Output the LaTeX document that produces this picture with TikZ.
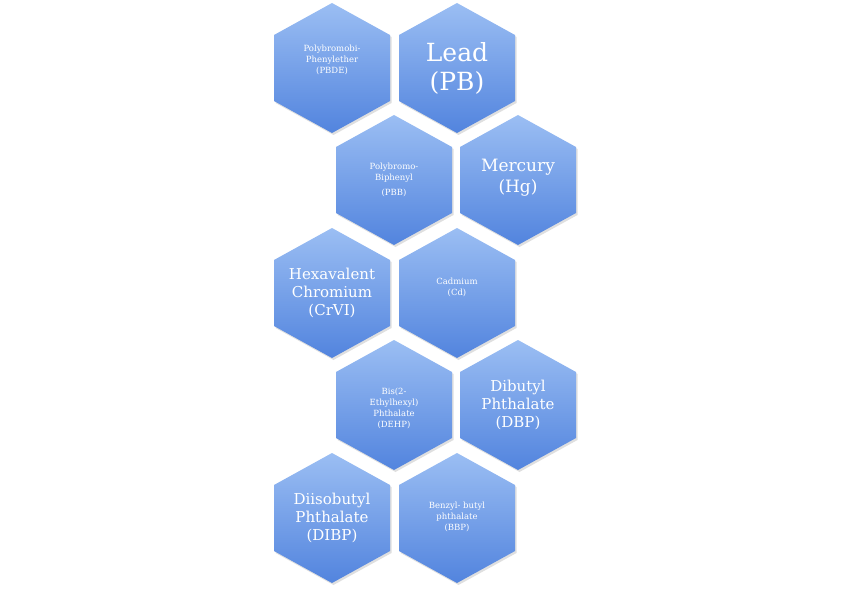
\documentclass[tikz,border=0pt]{standalone}
\usepackage{fontspec}
\setmainfont{DejaVu Serif}
\usetikzlibrary{shadows}
\begin{document}
\begin{tikzpicture}[x=1pt,y=1pt,
  hexfill/.style={top color={rgb,255:red,155;green,190;blue,243},bottom color={rgb,255:red,82;green,132;blue,222},draw=none,
    drop shadow={shadow xshift=1.5pt,shadow yshift=-2pt,opacity=0.25}},
  lbl/.style={text=white,align=center,inner sep=0pt},
  tiny/.style={lbl,font=\fontsize{8.5}{11}\selectfont},
  mid/.style={lbl,font=\fontsize{15}{18}\selectfont},
  big/.style={lbl,font=\fontsize{25}{29}\selectfont}]
\useasboundingbox (0,0) rectangle (850,590);
\newcommand\hexat[1]{\path[hexfill] (#1) ++(0,65) -- ++(58,-32) -- ++(0,-66) -- ++(-58,-32) -- ++(-58,32) -- ++(0,66) -- cycle;}
\coordinate (c1) at (332,522);
\coordinate (c2) at (457,522);
\coordinate (c3) at (394,410);
\coordinate (c4) at (518,410);
\coordinate (c5) at (332,297);
\coordinate (c6) at (457,297);
\coordinate (c7) at (394,185);
\coordinate (c8) at (518,185);
\coordinate (c9) at (332,72);
\coordinate (c10) at (457,72);
\foreach \i in {1,...,10}{\hexat{c\i}}
\node[tiny] (t1) at ([yshift=8]c1) {Polybromobi-\\Phenylether\\(PBDE)};
\node[big] (t2) at (c2) {Lead\\(PB)};
\node[tiny] (t3) at (c3) {Polybromo-\\Biphenyl\\[4pt](PBB)};
\node[mid,font=\fontsize{17}{21}\selectfont] (t4) at ([yshift=2]c4) {Mercury\\(Hg)};
\node[mid] (t5) at (c5) {Hexavalent\\Chromium\\(CrVI)};
\node[tiny] (t6) at ([yshift=6]c6) {Cadmium\\(Cd)};
\node[tiny] (t7) at ([yshift=-3]c7) {Bis(2-\\Ethylhexyl)\\Phthalate\\(DEHP)};
\node[mid] (t8) at (c8) {Dibutyl\\Phthalate\\(DBP)};
\node[mid] (t9) at (c9) {Diisobutyl\\Phthalate\\(DIBP)};
\node[tiny] (t10) at ([yshift=1]c10) {Benzyl- butyl\\phthalate\\(BBP)};
\end{tikzpicture}
\end{document}
